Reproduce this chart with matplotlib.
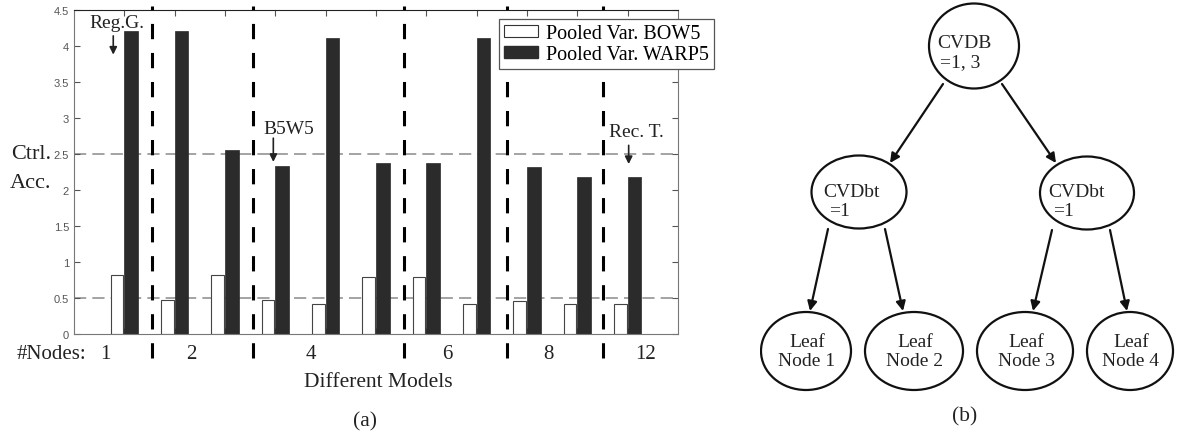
import matplotlib
matplotlib.use('Agg')
import matplotlib.pyplot as plt
from matplotlib.patches import Ellipse, Patch
import numpy as np

# data
pairs = np.arange(1, 12)
bow5 = [0.82, 0.47, 0.82, 0.47, 0.42, 0.79, 0.79, 0.42, 0.46, 0.42, 0.42]
warp5 = [4.21, 4.21, 2.55, 2.34, 4.11, 2.37, 2.38, 4.11, 2.32, 2.18, 2.18]
group_names = ['1', '2', '4', '6', '8', '12']
ctrl_levels = [2.5, 0.5]
yticks = [0, 0.5, 1, 1.5, 2, 2.5, 3, 3.5, 4, 4.5]
ytick_labels = ['0', '0.5', '1', '1.5', '2', '2.5', '3', '3.5', '4', '4.5']

# tree nodes (b)
node_top = ['CVDB', '=1, 3']
node_mid = ['CVDbt', '=1']
leaf_names = ['Leaf\nNode 1', 'Leaf\nNode 2', 'Leaf\nNode 3', 'Leaf\nNode 4']

serif = 'Liberation Serif'
W, H = 1186, 435

fig = plt.figure(figsize=(W / 100, H / 100), dpi=100)

# ---- (a) bar chart ----
ax = fig.add_axes([74 / W, 1 - 335 / H, 604 / W, 324 / H])
ax.bar(pairs - 0.145, bow5, width=0.25, color='white', edgecolor='#444444', linewidth=0.8, zorder=2)
ax.bar(pairs + 0.135, warp5, width=0.27, color='#2b2b2b', edgecolor='#2b2b2b', linewidth=0.5, zorder=2)
ax.set_xlim(0, 12)
ax.set_ylim(0, 4.5)

for lvl in ctrl_levels:
    ax.axhline(lvl, color='#8a8a8a', lw=1.1, ls=(0, (8, 4)), zorder=1)

sep_x = [1.55, 3.55, 6.55, 8.6, 10.5]
for sx in sep_x:
    ax.plot([sx, sx], [-0.33, 4.55], color='black', lw=2.2, ls=(0, (5, 4.5)), clip_on=False, zorder=3)

ax.set_yticks(yticks)
ax.set_yticklabels(ytick_labels, fontsize=8, color='#555555', family='Liberation Sans')
ax.set_xticks(pairs)
ax.set_xticklabels([])
ax.tick_params(direction='in', length=4, top=True, right=True, colors='#555555', width=0.8)
for side in ['bottom', 'right', 'left']:
    ax.spines[side].set_color('#777777')
ax.spines['top'].set_color('#222222')

# group labels under the axis
group_x = [0.62, 2.33, 4.7, 7.42, 9.43, 11.36]
for gx, gname in zip(group_x, group_names):
    ax.text(gx, -0.27, gname, ha='center', va='center', fontsize=15, family=serif, color='#222222', clip_on=False)
ax.text(-1.13, -0.27, '#Nodes:', ha='left', va='center', fontsize=15, family=serif, color='#222222', clip_on=False)

ax.text(-0.86, 2.5, 'Ctrl.', ha='center', va='center', fontsize=16, family=serif, color='#222222', clip_on=False)
ax.text(-0.86, 2.11, 'Acc.', ha='center', va='center', fontsize=16, family=serif, color='#222222', clip_on=False)

# annotations
notes = [('Reg.G.', 0.85, 4.33, 0.78, 4.14, 3.88),
         ('B5W5', 4.26, 2.85, 3.96, 2.72, 2.39),
         ('Rec. T.', 11.18, 2.81, 11.02, 2.62, 2.36)]
for txt, tx, ty, axx, y0, y1 in notes:
    ax.text(tx, ty, txt, ha='center', va='center', fontsize=14, family=serif, color='#222222')
    ax.annotate('', xy=(axx, y1), xytext=(axx, y0),
                arrowprops=dict(arrowstyle='-|>', color='#222222', lw=1.2, mutation_scale=11,
                                shrinkA=0, shrinkB=0))

handles = [Patch(facecolor='white', edgecolor='#333333', lw=0.8),
           Patch(facecolor='#2b2b2b', edgecolor='#2b2b2b')]
leg = ax.legend(handles, ['Pooled Var. BOW5', 'Pooled Var. WARP5'], loc='upper left',
                bbox_to_anchor=(0.703, 0.972), borderaxespad=0, fancybox=False,
                prop={'family': serif, 'size': 14.5}, handlelength=1.7, handleheight=0.55,
                handletextpad=0.4, labelspacing=0.1, borderpad=0.25, framealpha=1)
leg.get_frame().set_edgecolor('#555555')
leg.get_frame().set_linewidth(0.9)
leg.set_zorder(5)

fig.text(378 / W, 1 - 383 / H, 'Different Models', ha='center', va='center', fontsize=15.5, family=serif, color='#222222')
fig.text(365 / W, 1 - 422 / H, '(a)', ha='center', va='center', fontsize=15.5, family=serif, color='#222222')

# ---- (b) tree diagram, pixel coords ----
ax2 = fig.add_axes([760 / W, 0, (W - 760) / W, 1])
ax2.set_xlim(760, W)
ax2.set_ylim(H, 0)
ax2.axis('off')

ellipses = [(974, 47, 90, 85), (859, 193, 95, 73), (1087, 194, 94, 73),
            (806, 352, 90, 78), (914, 352, 98, 78), (1025, 352, 96, 78), (1130, 352, 86, 78)]
for cx, cy, w, h in ellipses:
    ax2.add_patch(Ellipse((cx, cy), w, h, facecolor='white', edgecolor='#111111', lw=1.6))

edges = [((943, 85), (890, 164)), ((1002, 85), (1056, 164)),
         ((828, 230), (810, 312)), ((885, 230), (903, 312)),
         ((1052, 231), (1033, 312)), ((1110, 231), (1127, 312))]
for (x0, y0), (x1, y1) in edges:
    ax2.annotate('', xy=(x1, y1), xytext=(x0, y0),
                 arrowprops=dict(arrowstyle='-|>', color='#111111', lw=1.6, mutation_scale=14,
                                 shrinkA=0, shrinkB=0))

tkw = dict(family=serif, fontsize=14, color='#222222', va='center')
ax2.text(937, 43, node_top[0], ha='left', **tkw)
ax2.text(940, 63, node_top[1], ha='left', **tkw)
ax2.text(823, 193, node_mid[0], ha='left', **tkw)
ax2.text(829, 212, node_mid[1], ha='left', **tkw)
ax2.text(1048, 193, node_mid[0], ha='left', **tkw)
ax2.text(1053, 212, node_mid[1], ha='left', **tkw)
for (cx, cy, w, h), name in zip(ellipses[3:], leaf_names):
    ax2.text(cx + 1, cy, name, ha='center', linespacing=1.2, **tkw)

ax2.text(965, 417, '(b)', ha='center', family=serif, fontsize=15.5, color='#222222', va='center')

fig.savefig('out.png', dpi=100)
